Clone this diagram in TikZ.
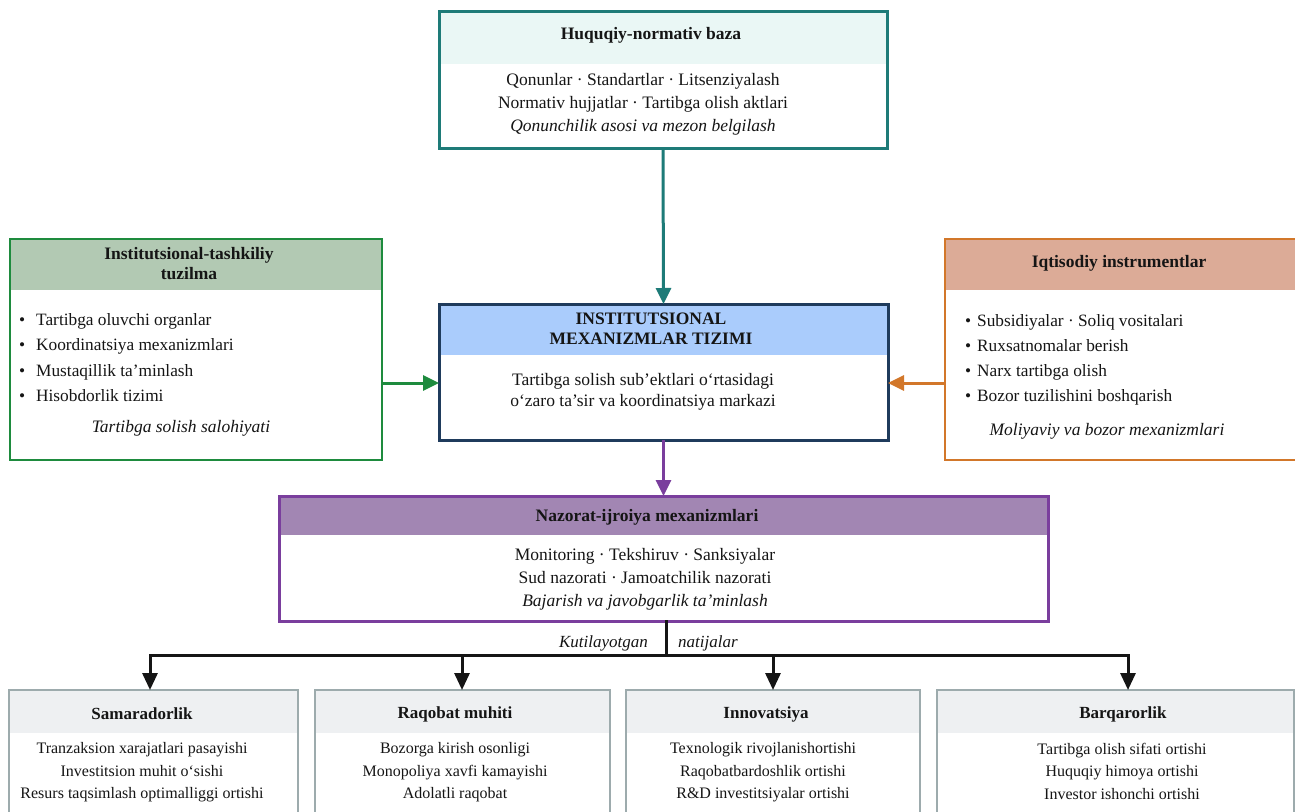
\documentclass[tikz,border=0pt]{standalone}
\usepackage{fontspec}
\setmainfont{Liberation Serif}
\usetikzlibrary{arrows.meta}
\definecolor{cTeal}{HTML}{1E7B78}
\definecolor{hTeal}{HTML}{EAF7F5}
\definecolor{cNavy}{HTML}{1F3B5C}
\definecolor{hBlue}{HTML}{AACCFC}
\definecolor{cGreen}{HTML}{1E8B3E}
\definecolor{hGreen}{HTML}{B2C9B3}
\definecolor{cOrange}{HTML}{D2772A}
\definecolor{hOrange}{HTML}{DCAB97}
\definecolor{cPurple}{HTML}{7A3E9D}
\definecolor{hPurple}{HTML}{A286B3}
\definecolor{cGrey}{HTML}{9DABAD}
\definecolor{hGrey}{HTML}{EEF0F2}
\definecolor{cInk}{HTML}{151515}
\tikzset{
  panel/.style n args={4}{draw=#1, fill=white, line width=#3, inner sep=0pt, outer sep=0pt,
    anchor=north west,
    path picture={\fill[#2] (path picture bounding box.north west) rectangle ([yshift=-#4]path picture bounding box.north east);}},
  hdr/.style={inner sep=0pt, align=center, text=cInk, font=\fontsize{17.5}{20}\selectfont\bfseries},
  txt/.style={inner sep=0pt, align=center, text=cInk, font=\fontsize{17.5}{23}\selectfont},
  lst/.style={inner sep=0pt, align=left, anchor=west, text=cInk, font=\fontsize{17.3}{25.2}\selectfont},
  shdr/.style={inner sep=0pt, align=center, text=cInk, font=\fontsize{17}{20}\selectfont\bfseries},
  stxt/.style={inner sep=0pt, align=center, text=cInk, font=\fontsize{16}{22.5}\selectfont},
  lbl/.style={inner sep=0pt, text=cInk, font=\fontsize{17}{20}\selectfont\itshape},
  arr/.style={line width=3pt, -{Triangle[length=16pt,width=15pt]}},
  bus/.style={line width=3pt, draw=cInk, line cap=rect},
  barr/.style={line width=3pt, draw=cInk, -{Triangle[length=17pt,width=15pt]}},
}
\begin{document}
\begin{tikzpicture}[x=1pt,y=-1pt]
\path[use as bounding box] (0,0) rectangle (1295,811);
\clip (0,0) rectangle (1295,811);
\fill[white] (0,0) rectangle (1295,811);

% top: legal base
\node[panel={cTeal}{hTeal}{3pt}{53pt}, minimum width=448pt, minimum height=137pt] (legal) at (439,11) {};
\node[hdr] (legalH) at (651,35) {Huquqiy-normativ baza};
\node[txt] (legalB) at (643,104) {Qonunlar · Standartlar · Litsenziyalash\\Normativ hujjatlar · Tartibga olish aktlari\\\textit{Qonunchilik asosi va mezon belgilash}};

% left: institutional structure
\node[panel={cGreen}{hGreen}{2.7pt}{51pt}, minimum width=372pt, minimum height=221pt] (inst) at (10,239) {};
\node[hdr] (instH) at (189,264) {Institutsional-tashkiliy\\tuzilma};
\node[lst] (instB) at (19,357.5) {\makebox[17pt][l]{•}Tartibga oluvchi organlar\\\makebox[17pt][l]{•}Koordinatsiya mexanizmlari\\\makebox[17pt][l]{•}Mustaqillik ta’minlash\\\makebox[17pt][l]{•}Hisobdorlik tizimi};
\node[txt] (instI) at (181,428) {\textit{Tartibga solish salohiyati}};

% right: economic instruments
\node[panel={cOrange}{hOrange}{2.7pt}{51pt}, minimum width=352pt, minimum height=221pt] (econ) at (945,239) {};
\node[hdr] (econH) at (1119,263) {Iqtisodiy instrumentlar};
\node[lst] (econB) at (965,360) {\makebox[12pt][l]{•}Subsidiyalar · Soliq vositalari\\\makebox[12pt][l]{•}Ruxsatnomalar berish\\\makebox[12pt][l]{•}Narx tartibga olish\\\makebox[12pt][l]{•}Bozor tuzilishini boshqarish};
\node[txt] (econI) at (1107,431) {\textit{Moliyaviy va bozor mexanizmlari}};

% centre
\node[panel={cNavy}{hBlue}{3pt}{51pt}, minimum width=449pt, minimum height=136pt] (core) at (439,304) {};
\node[hdr] (coreH) at (651,329) {INSTITUTSIONAL\\MEXANIZMLAR TIZIMI};
\node[txt, font=\fontsize{17.5}{21}\selectfont] (coreB) at (643,392) {Tartibga solish sub’ektlari o‘rtasidagi\\o‘zaro ta’sir va koordinatsiya markazi};

% control
\node[panel={cPurple}{hPurple}{3pt}{39pt}, minimum width=769pt, minimum height=125pt] (ctrl) at (279,496) {};
\node[hdr] (ctrlH) at (647,517) {Nazorat-ijroiya mexanizmlari};
\node[txt] (ctrlB) at (645,579) {Monitoring · Tekshiruv · Sanksiyalar\\Sud nazorati · Jamoatchilik nazorati\\\textit{Bajarish va javobgarlik ta’minlash}};

% outcome boxes
\node[panel={cGrey}{hGrey}{1.5pt}{43pt}, minimum width=289pt, minimum height=140pt] (b1) at (9,690) {};
\node[panel={cGrey}{hGrey}{1.5pt}{43pt}, minimum width=295pt, minimum height=140pt] (b2) at (315,690) {};
\node[panel={cGrey}{hGrey}{1.5pt}{43pt}, minimum width=294pt, minimum height=140pt] (b3) at (626,690) {};
\node[panel={cGrey}{hGrey}{1.5pt}{43pt}, minimum width=357pt, minimum height=140pt] (b4) at (937,690) {};
\node[shdr] (b1H) at (142,714) {Samaradorlik};
\node[shdr] (b2H) at (455,714) {Raqobat muhiti};
\node[shdr] (b3H) at (766,714) {Innovatsiya};
\node[shdr] (b4H) at (1123,714) {Barqarorlik};
\node[stxt] (b1B) at (142,772.5) {Tranzaksion xarajatlari pasayishi\\Investitsion muhit o‘sishi\\Resurs taqsimlash optimalliggi ortishi};
\node[stxt] (b2B) at (455,772.5) {Bozorga kirish osonligi\\Monopoliya xavfi kamayishi\\Adolatli raqobat};
\node[stxt] (b3B) at (763,772.5) {Texnologik rivojlanishortishi\\Raqobatbardoshlik ortishi\\R\&D investitsiyalar ortishi};
\node[stxt] (b4B) at (1122,771) {Tartibga olish sifati ortishi\\Huquqiy himoya ortishi\\Investor ishonchi ortishi};

% connectors
\coordinate (mid) at (663,383);
\draw[arr, cTeal] (legal.south) -- (core.north);
\draw[arr, cGreen] (inst.east |- mid) -- (core.west |- mid);
\draw[arr, cOrange] (econ.west |- mid) -- (core.east |- mid);
\draw[arr, cPurple] (core.south) -- (ctrl.north);

\coordinate (stem) at (666,655);
\coordinate (a1) at (150,655);
\coordinate (a2) at (462,655);
\coordinate (a3) at (773,655);
\coordinate (a4) at (1128,655);
\draw[bus] (stem |- ctrl.south) -- (stem);
\draw[bus] (a1) -- (a4);
\draw[barr] (a1) -- (a1 |- b1.north);
\draw[barr] (a2) -- (a2 |- b2.north);
\draw[barr] (a3) -- (a3 |- b3.north);
\draw[barr] (a4) -- (a4 |- b4.north);

\node[lbl, anchor=east] (kut) at (648,643) {Kutilayotgan};
\node[lbl, anchor=west] (nat) at (678,643) {natijalar};
\end{tikzpicture}
\end{document}
